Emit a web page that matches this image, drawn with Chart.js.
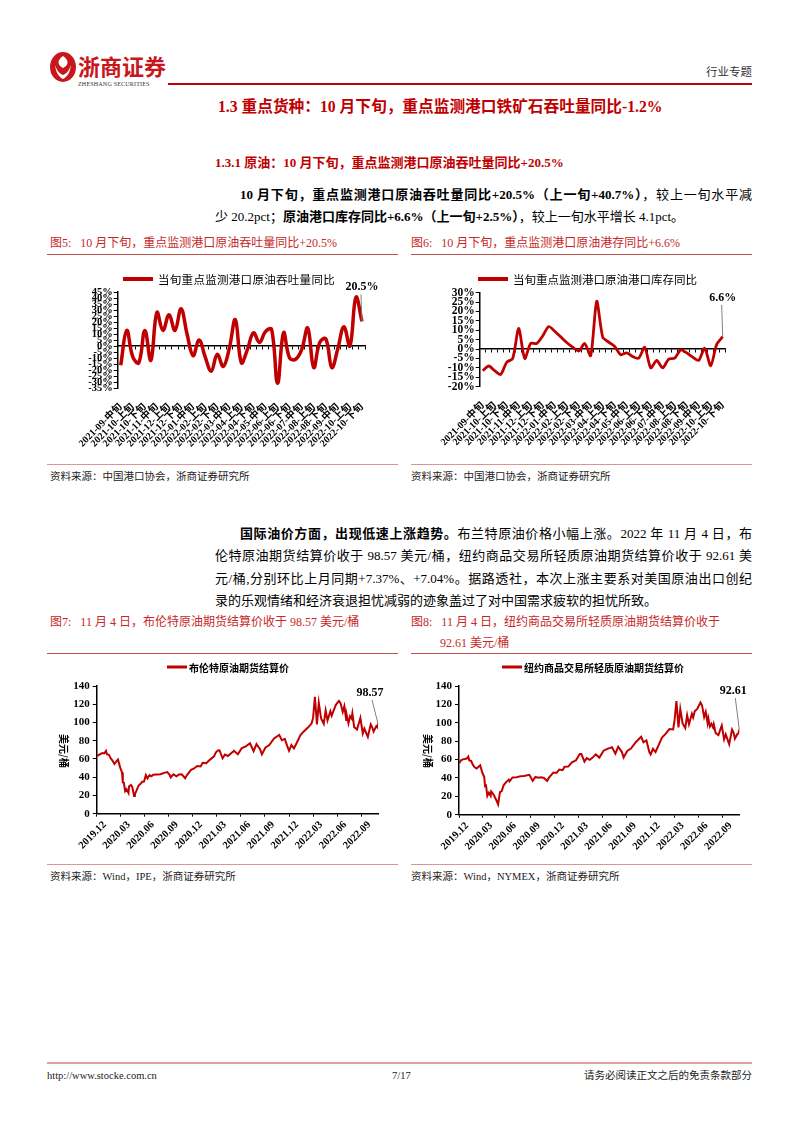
<!DOCTYPE html>
<html>
<head>
<meta charset="utf-8">
<script src="https://cdn.jsdelivr.net/npm/chart.js@4.4.0/dist/chart.umd.min.js"></script>
<style>
body { margin: 0; width: 802px; height: 1133px; position: relative; background: #fff; overflow: hidden;
       font-family: "Liberation Serif", "Noto Sans CJK SC", serif; color: #000; }
.t { position: absolute; white-space: nowrap; line-height: 1; }
.j { position: absolute; line-height: 1; text-align: justify; text-align-last: justify; white-space: nowrap; }
.red { color: #c00000; font-weight: bold; }
.cap { color: #c62828; font-size: 12px; }
.src { font-size: 10.5px; color: #222; }
.rule { position: absolute; height: 1px; }
canvas { position: absolute; }
b { font-weight: bold; }
</style>
</head>
<body>

<!-- header -->
<svg style="position:absolute;left:49px;top:51px" width="28" height="32" viewBox="0 0 28 32">
  <ellipse cx="14" cy="16" rx="13" ry="15" fill="#c8161d"/>
  <path d="M14 5 C8 9 8 14 14 17 C20 14 20 9 14 5Z" fill="#fff"/>
  <path d="M6 14 C7 22 10 26 14 28 C18 26 21 22 22 14 C20 20 17 23 14 24 C11 23 8 20 6 14Z" fill="#fff"/>
</svg>
<div class="t" style="left:78px;top:54px;font-size:22px;font-weight:bold;color:#c8161d;font-family:'Noto Sans CJK SC'">浙商证券</div>
<div class="t" style="left:78px;top:81px;font-size:6px;letter-spacing:0.2px;color:#333">ZHESHANG SECURITIES</div>
<div class="rule" style="left:168px;top:83px;width:584px;height:2px;background:#c00000"></div>
<div class="t" style="right:50px;top:67px;font-size:11.5px;color:#333">行业专题</div>

<div class="t red" style="left:218px;top:99px;font-size:15.7px">1.3 重点货种：10 月下旬，重点监测港口铁矿石吞吐量同比-1.2%</div>
<div class="t red" style="left:215px;top:155.5px;font-size:13px">1.3.1 原油：10 月下旬，重点监测港口原油吞吐量同比+20.5%</div>

<div class="j" style="left:240px;top:187.5px;width:512px;font-size:13px"><b>10 月下旬，重点监测港口原油吞吐量同比+20.5%（上一旬+40.7%）</b>，较上一旬水平减</div>
<div class="t" style="left:215px;top:209.5px;font-size:13px">少 20.2pct；<b>原油港口库存同比+6.6%（上一旬+2.5%）</b>，较上一旬水平增长 4.1pct。</div>

<!-- figure 5 / 6 -->
<div class="t cap" style="left:50px;top:237px">图5:&nbsp;&nbsp;&nbsp;10 月下旬，重点监测港口原油吞吐量同比+20.5%</div>
<div class="t cap" style="left:411px;top:237px">图6:&nbsp;&nbsp;&nbsp;10 月下旬，重点监测港口原油港存同比+6.6%</div>
<div class="rule" style="left:47px;top:254px;width:351px;background:#c0504d"></div>
<div class="rule" style="left:411px;top:254px;width:341px;background:#c0504d"></div>
<canvas id="flowChart" width="351" height="200" style="left:47px;top:258px"></canvas>
<canvas id="stockChart" width="341" height="200" style="left:411px;top:258px"></canvas>
<div class="rule" style="left:47px;top:464px;width:351px;background:#d99694"></div>
<div class="rule" style="left:411px;top:464px;width:341px;background:#d99694"></div>
<div class="t src" style="left:50px;top:471.5px">资料来源：中国港口协会，浙商证券研究所</div>
<div class="t src" style="left:411px;top:471.5px">资料来源：中国港口协会，浙商证券研究所</div>

<div class="j" style="left:240px;top:526.5px;width:512px;font-size:13px"><b>国际油价方面，出现低速上涨趋势。</b>布兰特原油价格小幅上涨。2022 年 11 月 4 日，布</div>
<div class="j" style="left:215px;top:549px;width:537px;font-size:13px">伦特原油期货结算价收于 98.57 美元/桶，纽约商品交易所轻质原油期货结算价收于 92.61 美</div>
<div class="j" style="left:215px;top:571.5px;width:537px;font-size:13px">元/桶,分别环比上月同期+7.37%、+7.04%。据路透社，本次上涨主要系对美国原油出口创纪</div>
<div class="t" style="left:215px;top:594px;font-size:13px">录的乐观情绪和经济衰退担忧减弱的迹象盖过了对中国需求疲软的担忧所致。</div>

<!-- figure 7 / 8 -->
<div class="t cap" style="left:50px;top:616px">图7:&nbsp;&nbsp;&nbsp;11 月 4 日，布伦特原油期货结算价收于 98.57 美元/桶</div>
<div class="t cap" style="left:411px;top:616px">图8:&nbsp;&nbsp;&nbsp;11 月 4 日，纽约商品交易所轻质原油期货结算价收于</div>
<div class="t cap" style="left:440px;top:637px">92.61 美元/桶</div>
<div class="rule" style="left:47px;top:653px;width:351px;background:#c0504d"></div>
<div class="rule" style="left:411px;top:653px;width:341px;background:#c0504d"></div>
<canvas id="brentChart" width="351" height="205" style="left:47px;top:658px"></canvas>
<canvas id="wtiChart" width="341" height="205" style="left:411px;top:658px"></canvas>
<div class="rule" style="left:47px;top:864px;width:351px;background:#d99694"></div>
<div class="rule" style="left:411px;top:864px;width:341px;background:#d99694"></div>
<div class="t src" style="left:50px;top:871.5px">资料来源：Wind，IPE，浙商证券研究所</div>
<div class="t src" style="left:411px;top:871.5px">资料来源：Wind，NYMEX，浙商证券研究所</div>

<!-- footer -->
<div class="rule" style="left:47px;top:1062px;width:705px;height:2px;background:#e3a3a3"></div>
<div class="t src" style="left:47px;top:1070.5px">http://www.stocke.com.cn</div>
<div class="t src" style="left:392px;top:1070.5px">7/17</div>
<div class="t src" style="right:50px;top:1070.5px">请务必阅读正文之后的免责条款部分</div>

<script>
// ---- data ----
const flowLabels = [
    '2021-09-中旬', '2021-09-下旬',
    '2021-10-上旬', '2021-10-中旬', '2021-10-下旬',
    '2021-11-上旬', '2021-11-中旬', '2021-11-下旬',
    '2021-12-上旬', '2021-12-中旬', '2021-12-下旬',
    '2022-01-上旬', '2022-01-中旬', '2022-01-下旬',
    '2022-02-上旬', '2022-02-中旬', '2022-02-下旬',
    '2022-03-上旬', '2022-03-中旬', '2022-03-下旬',
    '2022-04-上旬', '2022-04-中旬', '2022-04-下旬',
    '2022-05-上旬', '2022-05-中旬', '2022-05-下旬',
    '2022-06-上旬', '2022-06-中旬', '2022-06-下旬',
    '2022-07-上旬', '2022-07-中旬', '2022-07-下旬',
    '2022-08-上旬', '2022-08-中旬', '2022-08-下旬',
    '2022-09-上旬', '2022-09-中旬', '2022-09-下旬',
    '2022-10-上旬', '2022-10-中旬', '2022-10-下旬'
];

// 当旬重点监测港口原油吞吐量同比 (%)
const flowYoY = [
    -16, 13, -9, -14, 13, -12, 28, 13, 26, 13, 31,
    10, -8, 5, -9, -21, -7, -17, -2, 22, -14,
    -3, 11, 3, 12, 14, -31, 11, -10, -11, -3,
    15, -18, 3, 6, -18, -2, 16, 0, 40.7, 20.5
];

// 当旬重点监测港口原油港口库存同比 (%)
const stockYoY = [
    -11.5, -9, -11.5, -13.5, -7, -5, 11, -5, 3, 3, 7,
    12, 9.5, 6.5, 3.5, 1, -1, 3, -3.5, 25.5, 6.4,
    3.7, 1.4, -3, -2, -4, -4.8, 1, -10, -6, -10,
    -5.3, -4.8, -0.4, -2, -4.3, -6, 0.5, -8.9, 2.5, 6.6
];

const flowTicks = [-35, -30, -25, -20, -15, -10, -5, 0, 5, 10, 15, 20, 25, 30, 35, 40, 45];
const stockTicks = [-20, -15, -10, -5, 0, 5, 10, 15, 20, 25, 30];

// 布伦特原油期货结算价 (美元/桶)
const brentDates = [
    '2019-12-02', '2019-12-09', '2019-12-16', '2019-12-23', '2019-12-30', '2020-01-06', '2020-01-10',
    '2020-01-17', '2020-01-24', '2020-01-31', '2020-02-07', '2020-02-14', '2020-02-20', '2020-02-28',
    '2020-03-06', '2020-03-09', '2020-03-13', '2020-03-18', '2020-03-23', '2020-03-31', '2020-04-02',
    '2020-04-09', '2020-04-14', '2020-04-21', '2020-04-24', '2020-04-30', '2020-05-08', '2020-05-15',
    '2020-05-22', '2020-05-29', '2020-06-05', '2020-06-11', '2020-06-19', '2020-06-26', '2020-07-03',
    '2020-07-17', '2020-07-31', '2020-08-14', '2020-08-26', '2020-09-04', '2020-09-08', '2020-09-18',
    '2020-09-30', '2020-10-09', '2020-10-20', '2020-11-02', '2020-11-09', '2020-11-24', '2020-12-04',
    '2020-12-18', '2020-12-31', '2021-01-08', '2021-01-22', '2021-02-05', '2021-02-19', '2021-02-25',
    '2021-03-05', '2021-03-11', '2021-03-23', '2021-04-01', '2021-04-12', '2021-04-23', '2021-05-05',
    '2021-05-20', '2021-06-04', '2021-06-18', '2021-07-05', '2021-07-19', '2021-07-30', '2021-08-13',
    '2021-08-20', '2021-09-03', '2021-09-17', '2021-10-05', '2021-10-25', '2021-11-04', '2021-11-15',
    '2021-11-26', '2021-12-01', '2021-12-10', '2021-12-20', '2021-12-31', '2022-01-14', '2022-01-26',
    '2022-02-11', '2022-02-24', '2022-03-01', '2022-03-08', '2022-03-16', '2022-03-23', '2022-04-01',
    '2022-04-11', '2022-04-18', '2022-04-25', '2022-05-06', '2022-05-11', '2022-05-17', '2022-05-27',
    '2022-06-08', '2022-06-14', '2022-06-22', '2022-06-28', '2022-07-05', '2022-07-08', '2022-07-14',
    '2022-07-20', '2022-07-26', '2022-07-29', '2022-08-05', '2022-08-16', '2022-08-29', '2022-09-07',
    '2022-09-13', '2022-09-26', '2022-10-07', '2022-10-13', '2022-10-18', '2022-10-28', '2022-11-01',
    '2022-11-04'
];
const brentPrices = [
    63.5, 64.3, 65.5, 66.4, 66.0, 68.9, 65.0,
    64.8, 60.7, 58.2, 54.5, 57.3, 59.3, 50.5,
    45.3, 34.4, 33.9, 24.9, 27.0, 22.7, 29.9,
    31.5, 29.6, 19.3, 21.4, 25.3, 30.9, 32.5,
    35.1, 35.3, 42.3, 38.6, 42.2, 41.0, 42.8,
    43.1, 43.3, 44.8, 45.6, 42.7, 39.8, 43.2,
    40.9, 42.9, 43.2, 38.9, 42.4, 48.0, 49.3,
    52.3, 51.8, 55.9, 55.4, 59.3, 62.9, 66.9,
    69.4, 69.6, 60.8, 64.9, 63.3, 66.1, 68.9,
    65.1, 71.9, 73.5, 77.2, 68.6, 76.3, 70.6,
    65.2, 72.6, 75.3, 82.6, 86.4, 80.5, 82.1,
    72.7, 68.9, 75.2, 71.5, 77.8, 86.1, 89.9,
    94.4, 99.1, 105.0, 128.0, 98.0, 121.6, 104.4,
    98.5, 113.2, 102.3, 112.4, 107.5, 112.0, 119.4,
    123.6, 121.0, 111.7, 117.9, 102.8, 107.0, 99.1,
    106.9, 104.4, 110.0, 94.9, 92.3, 105.1, 88.0,
    93.2, 84.1, 97.9, 94.6, 90.0, 95.8, 94.7,
    98.57
];

// 纽约商品交易所轻质原油期货结算价 (美元/桶)
const wtiDates = [
    '2019-12-02', '2019-12-09', '2019-12-16', '2019-12-23', '2019-12-31', '2020-01-06', '2020-01-10',
    '2020-01-17', '2020-01-24', '2020-01-31', '2020-02-07', '2020-02-14', '2020-02-20', '2020-02-28',
    '2020-03-06', '2020-03-09', '2020-03-13', '2020-03-18', '2020-03-24', '2020-03-31', '2020-04-02',
    '2020-04-09', '2020-04-14', '2020-04-21', '2020-04-28', '2020-05-05', '2020-05-12', '2020-05-19',
    '2020-05-29', '2020-06-08', '2020-06-11', '2020-06-22', '2020-07-06', '2020-07-22', '2020-08-05',
    '2020-08-26', '2020-09-08', '2020-09-18', '2020-09-30', '2020-10-09', '2020-10-21', '2020-11-02',
    '2020-11-09', '2020-11-25', '2020-12-08', '2020-12-18', '2020-12-31', '2021-01-08', '2021-01-22',
    '2021-02-05', '2021-02-19', '2021-03-05', '2021-03-11', '2021-03-23', '2021-04-01', '2021-04-12',
    '2021-04-23', '2021-05-05', '2021-05-19', '2021-06-04', '2021-06-18', '2021-07-06', '2021-07-19',
    '2021-07-30', '2021-08-13', '2021-08-20', '2021-09-03', '2021-09-17', '2021-10-05', '2021-10-26',
    '2021-11-04', '2021-11-15', '2021-11-26', '2021-12-01', '2021-12-10', '2021-12-20', '2021-12-31',
    '2022-01-14', '2022-01-26', '2022-02-11', '2022-02-24', '2022-03-01', '2022-03-08', '2022-03-16',
    '2022-03-23', '2022-04-01', '2022-04-11', '2022-04-18', '2022-04-25', '2022-05-06', '2022-05-11',
    '2022-05-17', '2022-05-27', '2022-06-08', '2022-06-14', '2022-06-22', '2022-06-28', '2022-07-05',
    '2022-07-08', '2022-07-14', '2022-07-20', '2022-07-26', '2022-07-29', '2022-08-05', '2022-08-16',
    '2022-08-29', '2022-09-07', '2022-09-13', '2022-09-26', '2022-10-07', '2022-10-13', '2022-10-18',
    '2022-10-28', '2022-11-01', '2022-11-04'
];
const wtiPrices = [
    56.0, 59.2, 60.2, 60.5, 61.1, 63.3, 59.0,
    58.5, 54.2, 51.6, 50.3, 52.1, 53.8, 45.3,
    41.3, 31.1, 31.7, 20.4, 24.0, 20.5, 25.3,
    22.8, 20.1, 16.0, 11.2, 24.6, 25.8, 32.0,
    35.5, 38.2, 36.3, 40.5, 40.6, 41.9, 42.2,
    43.4, 36.8, 41.1, 40.2, 40.6, 40.0, 36.8,
    40.3, 45.7, 45.6, 49.1, 48.5, 52.2, 52.3,
    56.9, 59.2, 66.1, 66.0, 57.8, 61.5, 59.7,
    62.1, 65.6, 62.1, 69.6, 71.6, 73.4, 66.4,
    73.9, 68.4, 62.3, 69.3, 71.9, 78.9, 84.7,
    78.8, 80.9, 68.2, 65.6, 71.7, 68.2, 75.2,
    83.8, 87.4, 93.1, 92.8, 103.4, 123.7, 95.0,
    114.9, 99.3, 94.3, 108.2, 98.5, 109.8, 105.7,
    112.4, 115.1, 122.1, 118.9, 106.2, 111.8, 99.5,
    104.8, 95.8, 98.9, 95.0, 98.6, 89.0, 86.5,
    97.0, 81.9, 87.3, 76.7, 92.6, 89.1, 82.8,
    87.9, 88.4, 92.61
];

const priceTickLabels = ['2019.12', '2020.03', '2020.06', '2020.09', '2020.12', '2021.03',
                         '2021.06', '2021.09', '2021.12', '2022.03', '2022.06', '2022.09'];

// ---- helpers ----
const FONT = '"Liberation Serif", "Noto Sans CJK SC", serif';
const CJK = '"Noto Sans CJK SC", sans-serif';
const RED = '#c00000';

Chart.defaults.font.family = FONT;
Chart.defaults.color = '#000';

// months since 2019-12-01, used as x position on the price charts
const toMonthIndex = (s) => {
    const [y, m, d] = s.split(/[-.]/).map(Number);
    const days = new Date(y, m, 0).getDate();
    return (y - 2019) * 12 + (m - 12) + ((d || 1) - 1) / days;
};
const monthLabel = (v) => {
    const t = 11 + Math.round(v);
    return (2019 + Math.floor(t / 12)) + '.' + String(t % 12 + 1).padStart(2, '0');
};

// legend: short thick line + label, at a fixed spot in the canvas
const lineLegend = {
    id: 'lineLegend',
    afterDraw(chart, args, opts) {
        const ds = chart.data.datasets[0];
        const ctx = chart.ctx;
        ctx.save();
        ctx.strokeStyle = ds.borderColor;
        ctx.lineWidth = opts.width;
        ctx.beginPath();
        ctx.moveTo(opts.x, opts.y);
        ctx.lineTo(opts.x + opts.len, opts.y);
        ctx.stroke();
        ctx.fillStyle = '#000';
        ctx.font = opts.font;
        ctx.letterSpacing = opts.spacing || '0px';
        ctx.textBaseline = 'middle';
        ctx.fillText(ds.label, opts.x + opts.len + opts.gap, opts.y + 1);
        ctx.restore();
    }
};

// value label above the last point with a thin leader line
const endLabel = {
    id: 'endLabel',
    afterDatasetsDraw(chart, args, opts) {
        const pts = chart.getDatasetMeta(0).data;
        const p = pts[pts.length - 1];
        const values = chart.data.datasets[0].data;
        const last = values[values.length - 1];
        const v = typeof last === 'object' ? last.y : last;
        const ctx = chart.ctx;
        ctx.save();
        ctx.strokeStyle = '#808080';
        ctx.lineWidth = 1;
        ctx.beginPath();
        ctx.moveTo(p.x + opts.dx + opts.lx, p.y + opts.dy + 7);
        ctx.lineTo(p.x, p.y);
        ctx.stroke();
        ctx.font = 'bold 12px ' + FONT;
        ctx.fillStyle = '#000';
        ctx.textAlign = 'center';
        ctx.textBaseline = 'middle';
        ctx.fillText(opts.format(v), p.x + opts.dx, p.y + opts.dy);
        ctx.restore();
    }
};

// y axis unit, written top to bottom
const yTitle = {
    id: 'yTitle',
    afterDraw(chart, args, opts) {
        const ctx = chart.ctx;
        ctx.save();
        ctx.translate(opts.x, opts.y);
        ctx.rotate(Math.PI / 2);
        ctx.font = 'bold 10px ' + CJK;
        ctx.fillStyle = '#000';
        ctx.textAlign = 'center';
        ctx.textBaseline = 'middle';
        ctx.fillText(opts.text, 0, 0);
        ctx.restore();
    }
};

// Ten-day YoY chart (fig 5 / 6)
const makeYoYChart = (canvas, label, values, ticks, box) => {
    return new Chart(canvas.getContext('2d'), {
        type: 'line',
        data: {
            labels: flowLabels,
            datasets: [{
                label: label,
                data: values,
                borderColor: RED,
                borderWidth: box.lineWidth,
                pointRadius: 0,
                tension: box.tension,
                fill: false
            }]
        },
        options: {
            responsive: false,
            animation: false,
            layout: { padding: { top: box.top, right: box.right, left: 0, bottom: 0 } },
            plugins: {
                legend: { display: false },
                tooltip: { enabled: false },
                lineLegend: { x: box.legendX, y: 21, len: 30, gap: 5, width: 4,
                              font: '11.5px ' + CJK, spacing: box.spacing },
                endLabel: { dx: box.labelDx, dy: box.labelDy, lx: -1,
                            format: v => v.toFixed(1) + '%' }
            },
            scales: {
                x: {
                    type: 'category',
                    position: { y: 0 },
                    offset: true,
                    grid: { offset: true, drawOnChartArea: false, tickLength: 3, color: '#000' },
                    border: { color: '#000', width: 1.5 },
                    ticks: { display: false }
                },
                xl: {
                    type: 'category',
                    position: 'bottom',
                    offset: true,
                    grid: { display: false },
                    border: { display: false },
                    ticks: {
                        autoSkip: false,
                        minRotation: 45,
                        maxRotation: 45,
                        padding: 5,
                        font: { size: 10, weight: 'bold' },
                        callback: function(value, index) {
                            return index % 2 === 0 ? this.getLabelForValue(value) : '';
                        }
                    },
                    afterFit: (scale) => { scale.height = box.xHeight; }
                },
                y: {
                    min: ticks[0],
                    max: ticks[ticks.length - 1],
                    grid: { drawOnChartArea: false, tickLength: 4, color: '#000' },
                    border: { color: '#000', width: 1.5 },
                    ticks: {
                        autoSkip: false,
                        padding: 1,
                        font: { size: box.yFont, weight: 'bold' },
                        callback: v => v + '%'
                    },
                    afterBuildTicks: (scale) => { scale.ticks = ticks.map(v => ({ value: v })); },
                    afterFit: (scale) => { scale.width = box.yWidth; }
                }
            }
        },
        plugins: [lineLegend, endLabel]
    });
};

// Daily futures settlement chart (fig 7 / 8)
const makePriceChart = (canvas, label, dates, prices, box) => {
    const points = dates.map((d, i) => ({ x: toMonthIndex(d), y: prices[i] }));
    const tickValues = priceTickLabels.map(s => toMonthIndex(s + '.01'));
    return new Chart(canvas.getContext('2d'), {
        type: 'line',
        data: {
            datasets: [{
                label: label,
                data: points,
                borderColor: RED,
                borderWidth: 2,
                pointRadius: 0,
                tension: 0,
                fill: false
            }]
        },
        options: {
            responsive: false,
            animation: false,
            layout: { padding: { top: 28, right: box.right, left: 0, bottom: 0 } },
            plugins: {
                legend: { display: false },
                tooltip: { enabled: false },
                lineLegend: { x: box.legendX, y: 9, len: 20, gap: 2, width: 3,
                              font: 'bold 10px ' + CJK },
                endLabel: { dx: box.labelDx, dy: box.labelDy, lx: 2, format: v => v.toFixed(2) },
                yTitle: { text: '美元/桶', x: 17, y: 93 }
            },
            scales: {
                x: {
                    type: 'linear',
                    min: 0,
                    max: points[points.length - 1].x,
                    grid: { drawOnChartArea: false, tickLength: 3, color: '#000' },
                    border: { color: '#000', width: 1.5 },
                    ticks: {
                        autoSkip: false,
                        minRotation: 45,
                        maxRotation: 45,
                        padding: 2,
                        labelOffset: 8,
                        font: { size: 10.5, weight: 'bold' },
                        callback: v => monthLabel(v)
                    },
                    afterBuildTicks: (scale) => { scale.ticks = tickValues.map(v => ({ value: v })); },
                    afterFit: (scale) => { scale.height = box.xHeight; }
                },
                y: {
                    min: 0,
                    max: 140,
                    grid: { drawOnChartArea: false, tickLength: 4, color: '#000' },
                    border: { color: '#000', width: 1.5 },
                    ticks: { stepSize: 20, padding: 3, font: { size: 11, weight: 'bold' } },
                    afterFit: (scale) => { scale.width = box.yWidth; }
                }
            }
        },
        plugins: [lineLegend, endLabel, yTitle]
    });
};

makeYoYChart(document.getElementById('flowChart'), '当旬重点监测港口原油吞吐量同比', flowYoY, flowTicks, {
    top: 34, right: 33, yWidth: 70.7, xHeight: 70, yFont: 10.5, lineWidth: 3.5, tension: 0.4,
    legendX: 76, spacing: '0.3px', labelDx: 0, labelDy: -34
});
makeYoYChart(document.getElementById('stockChart'), '当旬重点监测港口原油港口库存同比', stockYoY, stockTicks, {
    top: 34.7, right: 26.3, yWidth: 68.7, xHeight: 71.3, yFont: 11.5, lineWidth: 2.8, tension: 0.25,
    legendX: 67, spacing: '0px', labelDx: 0, labelDy: -38.7
});
makePriceChart(document.getElementById('brentChart'), '布伦特原油期货结算价', brentDates, brentPrices, {
    right: 20, yWidth: 49.7, xHeight: 49.3, legendX: 120, labelDx: -8, labelDy: -31
});
makePriceChart(document.getElementById('wtiChart'), '纽约商品交易所轻质原油期货结算价', wtiDates, wtiPrices, {
    right: 12.7, yWidth: 48, xHeight: 48.3, legendX: 91, labelDx: -6, labelDy: -38.6
});
</script>
</body>
</html>
